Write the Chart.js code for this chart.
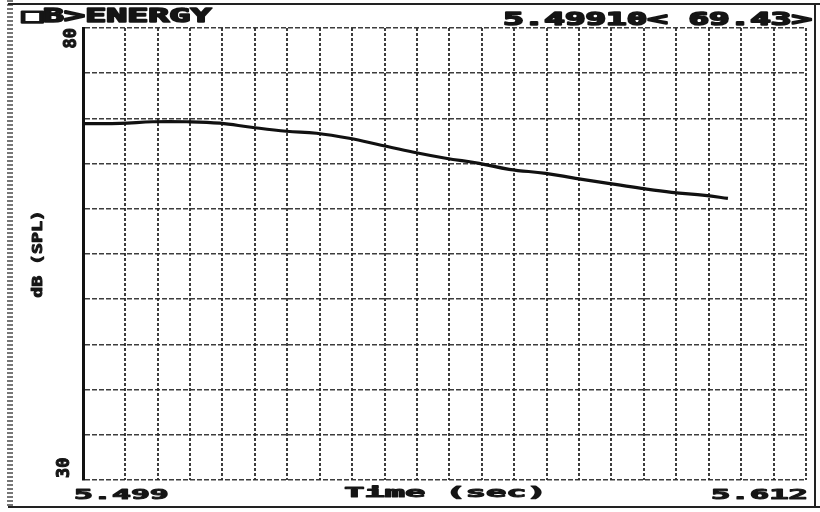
<!DOCTYPE html>
<html>
<head>
<meta charset="utf-8">
<script src="https://cdn.jsdelivr.net/npm/chart.js@4.4.0/dist/chart.umd.min.js"></script>
<style>
  html, body { margin: 0; padding: 0; background: #fff; }
  #wrap { width: 820px; height: 512px; position: relative; }
</style>
</head>
<body>
<div id="wrap"><canvas id="energyChart"></canvas></div>
<script>
// Energy decay trace
const times = [5.4990, 5.5048, 5.5099, 5.5152, 5.5204, 5.5253, 5.5308, 5.5355, 5.5406, 5.5456, 5.5507,
               5.5557, 5.5609, 5.5656, 5.5713, 5.5760, 5.5811, 5.5863, 5.5910, 5.5962, 5.5998];
const levels = [69.43, 69.45, 69.63, 69.63, 69.47, 69.02, 68.58, 68.36, 67.80, 67.03, 66.25,
                65.59, 65.03, 64.37, 63.92, 63.37, 62.82, 62.26, 61.82, 61.49, 61.15];
const timeRange = [5.499, 5.612];
const dbRange = [30, 80];
const dbStep = 5;
const timeGridCount = 22.3; // grid cells across the time span (first one is wider on the scan)

const titleText = '□B>ENERGY';
const cursorText = '5.49910< 69.43>';
const xTitle = 'Time (sec)';
const yTitle = 'dB (SPL)';

const FONT = '"DejaVu Sans Mono", monospace';
const INK = '#151515';

// old terminal style: double-width heavy glyphs
const paint = (ctx, str, w) => {
    ctx.fillStyle = INK;
    ctx.strokeStyle = INK;
    ctx.lineWidth = w;
    ctx.lineJoin = 'round';
    ctx.strokeText(str, 0, 0);
    ctx.fillText(str, 0, 0);
};

const wideText = (ctx, str, x, y, size, sx, align, heavy = 1) => {
    ctx.save();
    ctx.font = `bold ${size}px ${FONT}`;
    ctx.textBaseline = 'alphabetic';
    ctx.textAlign = 'left';
    const w = ctx.measureText(str).width * sx;
    const x0 = align === 'right' ? x - w : align === 'center' ? x - w / 2 : x;
    ctx.translate(x0, y);
    ctx.scale(sx, 1);
    paint(ctx, str, heavy);
    ctx.restore();
};

const upText = (ctx, str, x, y, size, sx, align) => {
    ctx.save();
    ctx.font = `bold ${size}px ${FONT}`;
    ctx.translate(x, y);
    ctx.rotate(-Math.PI / 2);
    ctx.scale(sx, 1);
    ctx.textAlign = align;
    ctx.textBaseline = 'middle';
    paint(ctx, str, 1);
    ctx.restore();
};

const screenDecor = {
    id: 'screenDecor',
    afterDraw(chart) {
        const { ctx, chartArea, scales } = chart;
        const { left, right, top, bottom } = chartArea;

        // outer frame of the printout
        ctx.save();
        ctx.strokeStyle = '#777';
        ctx.lineWidth = 6;
        ctx.setLineDash([2, 2]);
        ctx.beginPath();
        ctx.moveTo(10, 0);
        ctx.lineTo(10, 506);
        ctx.stroke();
        ctx.setLineDash([]);
        ctx.strokeStyle = '#222';
        ctx.lineWidth = 2;
        ctx.beginPath();
        ctx.moveTo(8, 4);
        ctx.lineTo(820, 4);
        ctx.moveTo(8, 507);
        ctx.lineTo(820, 507);
        ctx.moveTo(815, 4);
        ctx.lineTo(815, 507);
        ctx.stroke();
        ctx.restore();

        wideText(ctx, titleText, 22, 22, 19, 1.84, 'left', 1.6);
        wideText(ctx, cursorText, 812, 25, 18, 1.9, 'right', 1.6);

        const yTop = scales.y.getPixelForValue(dbRange[1]);
        const yBot = scales.y.getPixelForValue(dbRange[0]);
        upText(ctx, String(dbRange[1]), left - 11, yTop, 17, 1.0, 'right');
        upText(ctx, String(dbRange[0]), left - 18, yBot - 2, 17, 1.0, 'left');
        upText(ctx, yTitle, 38, (top + bottom) / 2, 14, 1.3, 'center');

        wideText(ctx, timeRange[0].toFixed(3), left - 9, bottom + 19, 14, 2.25, 'left');
        wideText(ctx, xTitle, (left + right) / 2 + 1, bottom + 17, 14, 2.4, 'center');
        wideText(ctx, timeRange[1].toFixed(3), 808, bottom + 19, 14, 2.3, 'right');
    }
};

const ctx = document.getElementById('energyChart').getContext('2d');
new Chart(ctx, {
    type: 'line',
    data: {
        datasets: [{
            data: times.map((t, i) => ({ x: t, y: levels[i] })),
            borderColor: '#111',
            borderWidth: 3.2,
            pointRadius: 0,
            tension: 0.4,
            fill: false
        }]
    },
    options: {
        responsive: true,
        maintainAspectRatio: false,
        animation: false,
        layout: { padding: { left: 83, top: 28, right: 14, bottom: 32 } },
        plugins: { legend: { display: false }, tooltip: { enabled: false } },
        scales: {
            x: {
                type: 'linear',
                min: timeRange[0],
                max: timeRange[1],
                afterBuildTicks: (axis) => {
                    const step = (timeRange[1] - timeRange[0]) / timeGridCount;
                    const ticks = [];
                    for (let v = timeRange[1]; v > timeRange[0] + step * 0.5; v -= step) ticks.push({ value: v });
                    axis.ticks = ticks.reverse();
                },
                ticks: { display: false },
                grid: { color: 'rgba(40,40,40,0.9)', lineWidth: 2, drawTicks: false },
                border: { display: false, dash: [3, 2] }
            },
            y: {
                min: dbRange[0],
                max: dbRange[1],
                ticks: { display: false, stepSize: dbStep },
                grid: { color: 'rgba(40,40,40,0.9)', lineWidth: 1.6, drawTicks: false },
                border: { display: true, color: '#111', width: 3, dash: [5, 2] }
            }
        }
    },
    plugins: [screenDecor]
});
</script>
</body>
</html>
